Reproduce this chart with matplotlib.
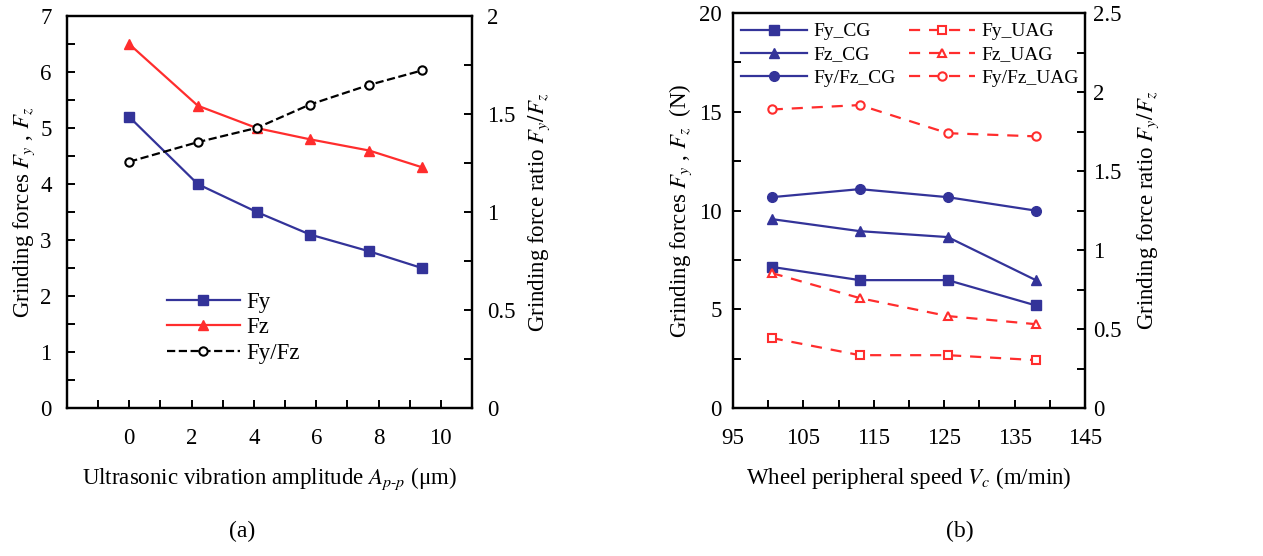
import matplotlib
matplotlib.use("Agg")
import matplotlib.pyplot as plt
from matplotlib.ticker import MultipleLocator

plt.rcParams['font.family'] = ['Liberation Serif', 'DejaVu Serif']
plt.rcParams['mathtext.fontset'] = 'stix'
plt.rcParams['font.size'] = 16.5

BLUE = '#333399'
RED = '#FF2D2D'

# (a) vibration amplitude
amp = [0, 2.2, 4.1, 5.8, 7.7, 9.4]
fy_a = [5.2, 4.0, 3.5, 3.1, 2.8, 2.5]
fz_a = [6.5, 5.4, 5.0, 4.8, 4.6, 4.3]
ratio_a = [1.257, 1.357, 1.43, 1.549, 1.649, 1.723]

# (b) wheel speed
speed = [100.5, 113, 125.5, 138]
fy_cg = [7.15, 6.48, 6.48, 5.2]
fz_cg = [9.57, 8.96, 8.66, 6.48]
ratio_cg = [1.335, 1.386, 1.335, 1.25]
fy_uag = [3.55, 2.68, 2.68, 2.43]
fz_uag = [6.84, 5.57, 4.66, 4.25]
ratio_uag = [1.89, 1.918, 1.74, 1.72]


def style(ax, twin, lpad, rpad):
    for a in (ax, twin):
        for s in a.spines.values():
            s.set_linewidth(1.6)
    ax.tick_params(which='both', direction='in', width=1.4, length=6, top=False)
    ax.tick_params(axis='x', pad=14)
    ax.tick_params(axis='y', pad=lpad)
    twin.tick_params(which='both', direction='in', width=1.4, length=6, pad=rpad)


fig = plt.figure(figsize=(12.63, 5.56), dpi=100)

# ---- panel (a)
ax1 = fig.add_axes([0.053, 0.266, 0.3207, 0.705])
ax1b = ax1.twinx()
ax1.plot(amp, fy_a, '-s', color=BLUE, lw=1.6, ms=7, label='Fy')
ax1.plot(amp, fz_a, '-^', color=RED, lw=1.6, ms=7, label='Fz')
ln, = ax1b.plot(amp, ratio_a, '--o', color='black', lw=1.6, ms=6,
                mfc='white', mew=1.5, label='Fy/Fz')
ax1.set_xlim(-2, 11)
ax1.set_ylim(0, 7)
ax1b.set_ylim(0, 2)
ax1.set_xticks([0, 2, 4, 6, 8, 10])
ax1.xaxis.set_minor_locator(MultipleLocator(1))
ax1.yaxis.set_major_locator(MultipleLocator(1))
ax1.yaxis.set_minor_locator(MultipleLocator(0.5))
ax1b.set_yticks([0, 0.5, 1, 1.5, 2])
ax1b.set_yticklabels(['0', '0.5', '1', '1.5', '2'])
ax1b.yaxis.set_minor_locator(MultipleLocator(0.25))
style(ax1, ax1b, 11, 11)
ax1.set_xlabel('Ultrasonic vibration amplitude $A_{p\\text{-}p}$ (μm)', labelpad=12)
ax1.set_ylabel('Grinding forces $F_y$ , $F_z$', labelpad=2)
ax1b.set_ylabel('Grinding force ratio $F_y/F_z$', labelpad=8)
h, l = ax1.get_legend_handles_labels()
ax1.legend(h + [ln], l + ['Fy/Fz'], loc='upper left', bbox_to_anchor=(0.195, 0.35),
           frameon=False, handlelength=3.2, labelspacing=0.2, handletextpad=0.3)
fig.text(0.192, 0.035, '(a)', ha='center', fontsize=17)

# ---- panel (b)
ax2 = fig.add_axes([0.5804, 0.266, 0.2787, 0.7104])
ax2b = ax2.twinx()
ax2.plot(speed, fy_cg, '-s', color=BLUE, lw=1.6, ms=7, label='Fy_CG')
ax2.plot(speed, fz_cg, '-^', color=BLUE, lw=1.6, ms=7, label='Fz_CG')
l3, = ax2b.plot(speed, ratio_cg, '-o', color=BLUE, lw=1.6, ms=7, label='Fy/Fz_CG')
l4, = ax2.plot(speed, fy_uag, '--s', color=RED, lw=1.6, ms=6, mfc='white', mew=1.5,
               dashes=(5, 4), label='Fy_UAG')
l5, = ax2.plot(speed, fz_uag, '--^', color=RED, lw=1.6, ms=6, mfc='white', mew=1.5,
               dashes=(5, 4), label='Fz_UAG')
l6, = ax2b.plot(speed, ratio_uag, '--o', color=RED, lw=1.6, ms=6, mfc='white', mew=1.5,
                dashes=(5, 4), label='Fy/Fz_UAG')
ax2.set_xlim(95, 145)
ax2.set_ylim(0, 20)
ax2b.set_ylim(0, 2.5)
ax2.set_xticks([95, 105, 115, 125, 135, 145])
ax2.xaxis.set_minor_locator(MultipleLocator(5))
ax2.yaxis.set_major_locator(MultipleLocator(5))
ax2.yaxis.set_minor_locator(MultipleLocator(2.5))
ax2b.set_yticks([0, 0.5, 1, 1.5, 2, 2.5])
ax2b.set_yticklabels(['0', '0.5', '1', '1.5', '2', '2.5'])
ax2b.yaxis.set_minor_locator(MultipleLocator(0.25))
style(ax2, ax2b, 8, 6)
ax2.set_xlabel('Wheel peripheral speed $V_c$ (m/min)', labelpad=12)
ax2.set_ylabel('Grinding forces $F_y$ , $F_z$  (N)', labelpad=4)
ax2b.set_ylabel('Grinding force ratio $F_y/F_z$', labelpad=10)
h, l = ax2.get_legend_handles_labels()
handles = [h[0], h[1], l3, l4, l5, l6]
labels = ['Fy_CG', 'Fz_CG', 'Fy/Fz_CG', 'Fy_UAG', 'Fz_UAG', 'Fy/Fz_UAG']
ax2.legend(handles, labels, ncol=2, loc='upper left', bbox_to_anchor=(-0.015, 1.01),
           frameon=False, fontsize=14, handlelength=3.4, labelspacing=0.28,
           handletextpad=0.3, columnspacing=0.7, borderpad=0.2)
fig.text(0.76, 0.035, '(b)', ha='center', fontsize=17)

fig.savefig('out.png', dpi=100)
